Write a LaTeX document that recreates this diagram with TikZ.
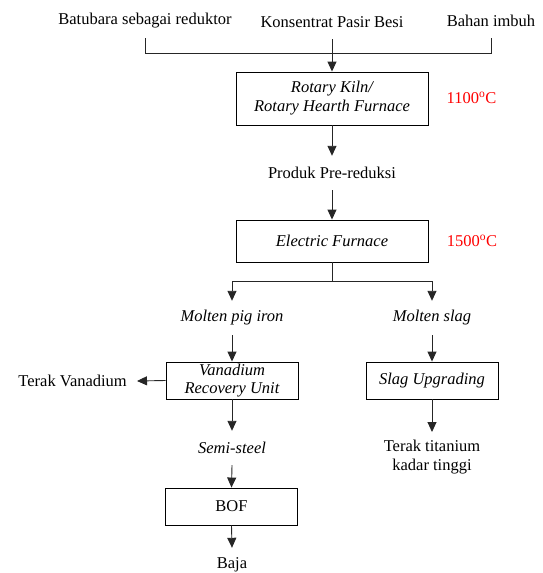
\documentclass[tikz,border=0pt]{standalone}
\usepackage{fontspec}
\setmainfont{Liberation Serif}
\usetikzlibrary{arrows.meta}
\definecolor{tempred}{RGB}{255,0,0}
\begin{document}
\begin{tikzpicture}[x=1pt,y=-1pt,
  every node/.style={font=\fontsize{16.5}{19}\selectfont},
  txt/.style={inner sep=0pt, minimum height=34pt, align=center},
  procbox/.style={draw, line width=0.9pt, inner sep=0pt, align=center, minimum width=192pt, font=\fontsize{16.5}{19}\selectfont\itshape},
  smallbox/.style={procbox, minimum width=132pt, minimum height=37pt},
  conn/.style={line width=0.9pt, draw=black!85},
  arr/.style={conn, -{Triangle[length=10pt,width=9pt]}},
  temp/.style={text=tempred, inner sep=0pt}
]
\useasboundingbox (0,0) rectangle (543,573);

% top inputs
\node[txt] (batubara) at (145,21) {Batubara sebagai reduktor};
\node[txt] (konsentrat) at (332,22) {Konsentrat Pasir Besi};
\node[txt] (bahan) at (491,21) {Bahan imbuh};
\coordinate (jl) at (145,53);
\coordinate (jr) at (491,53);

% boxes
\node[procbox, minimum height=53pt] (kiln) at (332,98.5) {Rotary Kiln/\\Rotary Hearth Furnace};
\node[temp] (t1) at (471.5,98) {1100\textsuperscript{o}C};
\node[txt] (produk) at (332,173) {Produk Pre-reduksi};
\node[procbox, minimum height=42pt] (ef) at (332,241) {Electric Furnace};
\node[temp] (t2) at (472,241) {1500\textsuperscript{o}C};
\coordinate (split) at (332,281);
\node[txt, font=\fontsize{16.5}{19}\selectfont\itshape] (pig) at (232,318) {Molten pig iron};
\node[txt, font=\fontsize{16.5}{19}\selectfont\itshape] (slag) at (432,318) {Molten slag};
\node[smallbox] (vru) at (232,380.5) {Vanadium\\[-1pt]Recovery Unit};
\node[smallbox] (su) at (432,380.5) {Slag Upgrading};
\node[inner xsep=10pt, inner ysep=0pt, anchor=east] (tv) at (137,381) {Terak Vanadium};
\node[txt, font=\fontsize{16.5}{19}\selectfont\itshape] (semi) at (232,448) {Semi-steel};
\node[inner xsep=0pt, inner ysep=8pt, anchor=north, align=center] (tt) at (432,432) {Terak titanium\\kadar tinggi};
\node[smallbox, font=\fontsize{16.5}{19}\selectfont] (bof) at (231.5,506.5) {BOF};
\node[txt] (baja) at (232,565) {Baja};

% connectors
\draw[conn] (batubara.south) -- (jl) -- (jr) -- (bahan.south);
\draw[arr] (konsentrat.south) -- (kiln.north);
\draw[arr] (kiln.south) -- (produk.north);
\draw[arr] (produk.south) -- (ef.north);
\draw[conn] (ef.south) -- (split);
\draw[arr] (split) -| (pig.north);
\draw[arr] (split) -| (slag.north);
\draw[arr] (pig.south) -- (vru.north);
\draw[arr] (slag.south) -- (su.north);
\draw[arr] (vru.west) -- (tv.east);
\draw[arr] (vru.south) -- (semi.north);
\draw[arr] (su.south) -- (tt.north);
\draw[arr] (semi.south) -- (bof.north);
\draw[arr] (bof.south) -- (baja.north);
\end{tikzpicture}
\end{document}
